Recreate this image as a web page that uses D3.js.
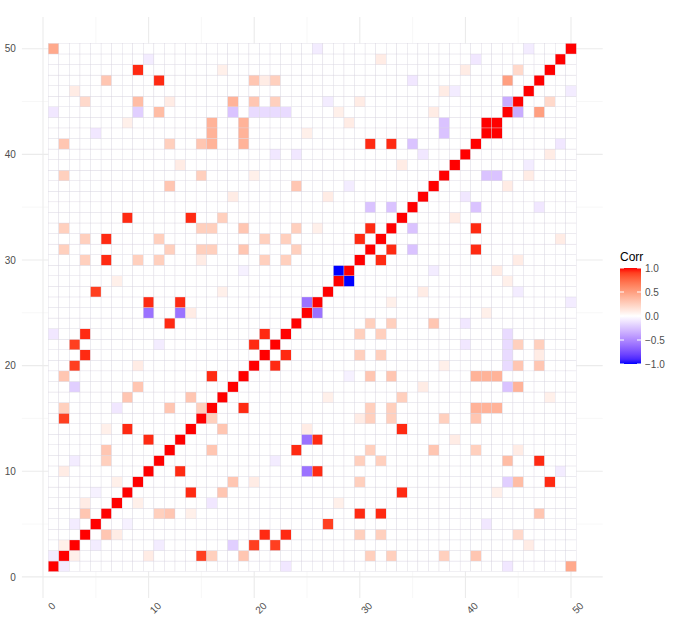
<!DOCTYPE html>
<html><head><meta charset="utf-8">
<script src="https://cdn.jsdelivr.net/npm/d3@7"></script>
<style>body{margin:0;background:#fff}text{font-family:"Liberation Sans",Arial,sans-serif}</style>
</head><body><svg id="c" width="677" height="634"></svg>
<script>
const N = 50;
const tickValues = [0,10,20,30,40,50];
const legendTicks = [1.0,0.5,0.0,-0.5,-1.0];
// off-diagonal correlations [var a, var b, r] (matrix is symmetric, diagonal = 1)
const strongPairs = [
 [9,48,0.95],[11,47,0.95],[8,34,0.95],[14,34,0.95],[6,32,0.95],[6,30,0.95],[5,27,0.9],
 [10,26,0.95],[13,26,0.95],[10,25,-0.6],[13,25,-0.6],[25,26,-0.6],[12,24,0.95],
 [4,23,0.95],[3,22,0.9],[4,21,0.95],[3,20,0.9],[20,22,0.95],[21,23,0.95],
 [2,15,0.9],[8,14,0.95],[10,13,0.95],[16,19,0.95],[28,29,-1],
 [30,32,0.95],[31,33,0.95],[31,41,0.95],[33,41,0.95],[42,43,1]
];
const mediumPairs = [
 [1,50,0.45],[44,45,-0.35],[44,47,0.5],[31,35,-0.25],[33,35,-0.25],[35,41,-0.25],
 [38,42,-0.25],[38,43,-0.25],[16,41,0.4],[16,42,0.4],[16,43,0.4],[19,41,0.4],[19,42,0.4],[19,43,0.4],
 [18,45,0.4],[9,45,0.35],[11,44,0.35],[6,47,0.3],[4,45,0.2],[9,44,-0.2],[18,44,-0.25],
 [20,44,-0.15],[21,44,-0.15],[22,44,-0.15],[23,44,-0.15],
 [2,41,0.3],[15,41,0.3],[12,41,0.25],[2,38,0.25],[15,38,0.25],[12,37,0.3],[24,37,0.3],[17,34,0.25],
 [2,33,0.25],[15,33,0.25],[16,33,0.25],[19,33,0.3],[24,33,0.25],
 [2,31,0.25],[12,31,0.25],[15,31,0.25],[16,31,0.25],[19,31,0.3],[24,31,0.25],
 [4,32,0.25],[11,32,0.25],[21,32,0.25],[23,32,0.25],
 [4,30,0.25],[9,30,0.25],[11,30,0.25],[21,30,0.25],[23,30,0.25],
 [2,19,0.3],[3,18,-0.2],[9,18,0.3],[8,17,0.3],[14,17,0.3],[2,16,0.25],[12,16,0.3],[15,16,0.25],
 [6,12,0.3],[4,6,0.3],[6,11,0.25],[20,45,0.3],[20,47,0.3],[22,45,0.25],[22,47,0.25],[45,48,0.2]
];
const faintPairs = [
 [1,2,-0.08],[2,3,0.08],[3,5,-0.08],[4,7,0.1],[5,8,-0.06],[7,9,0.08],[2,10,0.1],[3,11,-0.08],
 [6,14,0.08],[7,16,-0.1],[9,20,0.1],[11,22,-0.08],[14,25,0.1],[17,27,0.08],[19,29,-0.06],
 [26,33,0.08],[27,36,0.1],[29,37,-0.08],[34,39,0.1],[36,40,-0.1],[37,44,0.1],[39,46,-0.08],
 [40,48,0.1],[41,49,-0.1],[46,50,-0.08],[30,45,0.1],[24,40,-0.1],[13,39,0.1],[5,42,-0.1],
 [1,44,-0.1],[8,43,0.08],[3,46,0.1],[10,49,-0.08],[12,45,0.1],[17,48,0.08],[21,47,0.1],
 [26,50,-0.08],[28,44,0.08],[32,49,0.1],[35,47,-0.1],[38,46,0.1],[1,23,-0.1],[7,28,0.08],
 [15,30,0.1],[18,36,0.1],[20,38,0.08],[22,40,-0.1],[25,42,0.08],[27,45,-0.08],[29,43,0.1]
];
const pairMap = new Map();
[...faintPairs, ...mediumPairs, ...strongPairs].forEach(([a,b,r]) => {
  pairMap.set(Math.min(a,b)+"-"+Math.max(a,b), r);
});
const cells = [];
for (let i=1;i<=N;i++) for (let j=1;j<=N;j++) {
  const v = i===j ? 1 : (pairMap.get(Math.min(i,j)+"-"+Math.max(i,j)) || 0);
  cells.push({x:i,y:j,v});
}
const svg = d3.select("#c");
const x = d3.scaleLinear().domain([-2,53]).range([21.9,602.7]);
const y = d3.scaleLinear().domain([-2,53]).range([598,17]);
const color = d3.scaleLinear().domain([-1,0,1]).range(["#0000ff","#ffffff","#ff0000"]).interpolate(d3.interpolateLab);
const g = svg.append("g");
const minor = [5,15,25,35,45];
g.selectAll(".vm").data(minor).join("line").attr("x1",d=>x(d)).attr("x2",d=>x(d)).attr("y1",y(-2)).attr("y2",y(53)).attr("stroke","#f2f2f2").attr("stroke-width",0.6);
g.selectAll(".hm").data(minor).join("line").attr("y1",d=>y(d)).attr("y2",d=>y(d)).attr("x1",x(-2)).attr("x2",x(53)).attr("stroke","#f2f2f2").attr("stroke-width",0.6);
g.selectAll(".vM").data(tickValues).join("line").attr("x1",d=>x(d)).attr("x2",d=>x(d)).attr("y1",y(-2)).attr("y2",y(53)).attr("stroke","#ebebeb").attr("stroke-width",1.1);
g.selectAll(".hM").data(tickValues).join("line").attr("y1",d=>y(d)).attr("y2",d=>y(d)).attr("x1",x(-2)).attr("x2",x(53)).attr("stroke","#ebebeb").attr("stroke-width",1.1);
const w = x(1)-x(0), h = y(0)-y(1);
svg.append("g").selectAll("rect").data(cells).join("rect")
  .attr("x",d=>x(d.x-0.5)).attr("y",d=>y(d.y+0.5)).attr("width",w).attr("height",h)
  .attr("fill",d=>color(d.v)).attr("stroke","#d8d3df").attr("stroke-width",0.35);
const xa = svg.append("g").attr("transform",`translate(0,${y(-2)})`).call(d3.axisBottom(x).tickValues(tickValues).tickSize(0).tickPadding(6));
xa.select(".domain").remove();
xa.selectAll("text").attr("fill","#4d4d4d").attr("font-size",10).attr("text-anchor","end")
  .attr("transform","rotate(-45)").attr("dx","0.3em").attr("dy","0.9em");
const ya = svg.append("g").attr("transform",`translate(${x(-2)},0)`).call(d3.axisLeft(y).tickValues(tickValues).tickSize(0).tickPadding(6));
ya.select(".domain").remove();
ya.selectAll("text").attr("fill","#4d4d4d").attr("font-size",10);
// legend
const lx=620, lw=21, ly0=268, ly1=364;
const ly = d3.scaleLinear().domain([1,-1]).range([ly0,ly1]);
const defs = svg.append("defs");
const grad = defs.append("linearGradient").attr("id","lg").attr("x1",0).attr("x2",0).attr("y1",0).attr("y2",1);
d3.range(0,21).forEach(k=>{const v=1-k/10; grad.append("stop").attr("offset",(k/20)).attr("stop-color",color(v));});
svg.append("rect").attr("x",lx).attr("y",ly0).attr("width",lw).attr("height",ly1-ly0).attr("fill","url(#lg)");
svg.append("text").attr("x",lx).attr("y",ly0-7).text("Corr").attr("font-size",12).attr("fill","#000");
legendTicks.forEach(t=>{
  svg.append("line").attr("x1",lx).attr("x2",lx+4).attr("y1",ly(t)).attr("y2",ly(t)).attr("stroke","#fff");
  svg.append("line").attr("x1",lx+lw-4).attr("x2",lx+lw).attr("y1",ly(t)).attr("y2",ly(t)).attr("stroke","#fff");
  svg.append("text").attr("x",lx+lw+4).attr("y",ly(t)).attr("dy","0.35em").attr("font-size",10).attr("fill","#4d4d4d").text(d3.format(".1f")(t).replace("-","−"));
});
</script></body></html>
